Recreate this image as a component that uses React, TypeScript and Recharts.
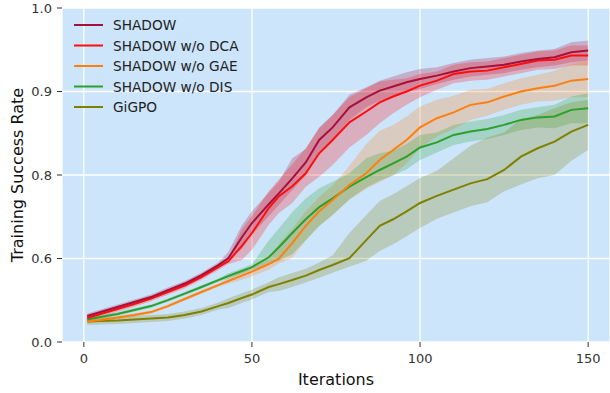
import { Area, CartesianGrid, ComposedChart, Line, XAxis, YAxis } from "recharts";

// iterations where the curves were sampled (extra points at the kinks)
const iterations = [
  1, 5, 10, 15, 20, 25, 30, 35, 40, 43, 47, 50, 55, 58, 62, 66, 70, 74, 79, 84,
  88, 92, 96, 100, 105, 110, 115, 120, 125, 130, 135, 140, 145, 150,
];

const shadow = [
  0.187, 0.215, 0.251, 0.287, 0.323, 0.373, 0.42, 0.481, 0.553, 0.601, 0.651,
  0.685, 0.73, 0.756, 0.792, 0.815, 0.842, 0.857, 0.881, 0.893, 0.901, 0.906,
  0.911, 0.915, 0.919, 0.924, 0.928, 0.93, 0.932, 0.936, 0.939, 0.941, 0.947,
  0.949,
];
const shadowStd = [
  0.018, 0.018, 0.018, 0.018, 0.018, 0.018, 0.018, 0.018, 0.018, 0.015, 0.028,
  0.028, 0.028, 0.028, 0.028, 0.016, 0.015, 0.015, 0.015, 0.012, 0.012, 0.012,
  0.012, 0.012, 0.01, 0.01, 0.01, 0.01, 0.01, 0.01, 0.01, 0.01, 0.012, 0.012,
];

const noDca = [
  0.172, 0.201, 0.237, 0.273, 0.312, 0.359, 0.406, 0.467, 0.538, 0.581, 0.63,
  0.661, 0.721, 0.749, 0.773, 0.802, 0.826, 0.842, 0.863, 0.876, 0.887, 0.894,
  0.9, 0.907, 0.913, 0.921, 0.924, 0.925, 0.929, 0.933, 0.937, 0.938, 0.943,
  0.943,
];
const noDcaStd = [
  0.02, 0.02, 0.02, 0.02, 0.02, 0.02, 0.02, 0.02, 0.02, 0.02, 0.04, 0.04, 0.04,
  0.04, 0.04, 0.03, 0.03, 0.03, 0.03, 0.028, 0.025, 0.02, 0.016, 0.014, 0.011,
  0.011, 0.011, 0.011, 0.011, 0.011, 0.011, 0.011, 0.012, 0.012,
];

const noGae = [
  0.147, 0.158, 0.176, 0.194, 0.215, 0.258, 0.309, 0.359, 0.409, 0.438, 0.477,
  0.506, 0.56, 0.599, 0.637, 0.678, 0.713, 0.74, 0.776, 0.802, 0.818, 0.83,
  0.842, 0.857, 0.868, 0.875, 0.884, 0.887, 0.894, 0.9, 0.904, 0.907, 0.913,
  0.915,
];
const noGaeStd = [
  0.012, 0.012, 0.012, 0.012, 0.012, 0.012, 0.012, 0.012, 0.012, 0.02, 0.03,
  0.035, 0.04, 0.035, 0.035, 0.035, 0.035, 0.035, 0.035, 0.035, 0.035, 0.03,
  0.028, 0.025, 0.022, 0.02, 0.018, 0.016, 0.016, 0.016, 0.016, 0.018, 0.02,
  0.022,
];

const noDis = [
  0.161, 0.179, 0.201, 0.23, 0.258, 0.301, 0.348, 0.395, 0.445, 0.474, 0.51,
  0.538, 0.603, 0.627, 0.661, 0.694, 0.723, 0.744, 0.772, 0.795, 0.806, 0.814,
  0.822, 0.833, 0.839, 0.848, 0.852, 0.855, 0.86, 0.866, 0.869, 0.87, 0.878,
  0.88,
];
const noDisStd = [
  0.012, 0.012, 0.012, 0.012, 0.012, 0.012, 0.012, 0.012, 0.012, 0.02, 0.02,
  0.02, 0.04, 0.045, 0.05, 0.05, 0.045, 0.04, 0.03, 0.025, 0.02, 0.015, 0.015,
  0.015, 0.012, 0.012, 0.012, 0.012, 0.012, 0.012, 0.012, 0.014, 0.016, 0.018,
];

const gigpo = [
  0.147, 0.151, 0.154, 0.161, 0.169, 0.176, 0.194, 0.219, 0.258, 0.28, 0.316,
  0.341, 0.395, 0.416, 0.445, 0.477, 0.517, 0.553, 0.601, 0.644, 0.678, 0.694,
  0.713, 0.733, 0.75, 0.765, 0.78, 0.79, 0.806, 0.822, 0.832, 0.84, 0.852,
  0.86,
];
const gigpoStd = [
  0.025, 0.025, 0.025, 0.025, 0.025, 0.025, 0.025, 0.025, 0.025, 0.035, 0.035,
  0.035, 0.035, 0.05, 0.05, 0.05, 0.055, 0.055, 0.06, 0.06, 0.06, 0.06, 0.06,
  0.06, 0.055, 0.055, 0.055, 0.055, 0.045, 0.045, 0.04, 0.04, 0.035, 0.03,
];

// labelled y ticks; the axis spaces them evenly
const yTickValues = [0.0, 0.6, 0.8, 0.9, 1.0];
const yTickLabels = ["0.0", "0.6", "0.8", "0.9", "1.0"];
const xTicks = [0, 50, 100, 150];

const series = [
  { key: "shadow", name: "SHADOW", color: "#a8103c", mean: shadow, std: shadowStd },
  { key: "noDca", name: "SHADOW w/o DCA", color: "#ff0d0d", mean: noDca, std: noDcaStd },
  { key: "noGae", name: "SHADOW w/o GAE", color: "#ff7f0e", mean: noGae, std: noGaeStd },
  { key: "noDis", name: "SHADOW w/o DIS", color: "#2ca02c", mean: noDis, std: noDisStd },
  { key: "gigpo", name: "GiGPO", color: "#808000", mean: gigpo, std: gigpoStd },
];

// piecewise mapping of a success rate onto the evenly spaced tick positions
function toAxis(v: number): number {
  for (let i = 0; i < yTickValues.length - 1; i++) {
    const a = yTickValues[i];
    const b = yTickValues[i + 1];
    if (v <= b || i === yTickValues.length - 2) {
      return i + (Math.max(v, a) - a) / (b - a);
    }
  }
  return 0;
}

const data = iterations.map((it, i) => {
  const row: Record<string, number | number[]> = { it };
  series.forEach((s) => {
    row[s.key] = toAxis(s.mean[i]);
    row[s.key + "Band"] = [toAxis(s.mean[i] - s.std[i]), toAxis(s.mean[i] + s.std[i])];
  });
  return row;
});

const FONT = "DejaVu Sans, sans-serif";

function LegendBox() {
  return (
    <svg
      width={320}
      height={130}
      style={{ position: "absolute", left: 0, top: 0, pointerEvents: "none" }}
    >
      {series.map((s, i) => {
        const y = 25 + i * 20.5;
        return (
          <g key={s.key}>
            <line x1={74} x2={103} y1={y} y2={y} stroke={s.color} strokeWidth={2} />
            <text
              x={113}
              y={y}
              dominantBaseline="central"
              fontSize={13.7}
              fontFamily={FONT}
              fill="#222"
            >
              {s.name}
            </text>
          </g>
        );
      })}
    </svg>
  );
}

export default function App() {
  return (
    <div style={{ position: "fixed", left: 0, top: 0, width: 610, height: 393, background: "#fff" }}>
      <ComposedChart
        width={610}
        height={393}
        data={data}
        margin={{ top: 8, right: 0, bottom: 0, left: 0 }}
        style={{ fontFamily: FONT }}
      >
        <CartesianGrid stroke="#ffffff" strokeWidth={1.3} fill="#cce5fb" fillOpacity={1} />
        <XAxis
          dataKey="it"
          type="number"
          domain={[-6.5, 156.5]}
          ticks={xTicks}
          height={51}
          axisLine={false}
          tickSize={5}
          tickMargin={7}
          tickLine={{ stroke: "#333" }}
          tick={{ fill: "#333", fontSize: 13 }}
          label={{ value: "Iterations", position: "insideBottom", offset: 8, fill: "#111", fontSize: 16 }}
        />
        <YAxis
          type="number"
          domain={[0, 4]}
          ticks={[0, 1, 2, 3, 4]}
          tickFormatter={(v: number) => yTickLabels[v]}
          width={62}
          axisLine={false}
          tickSize={5}
          tickMargin={5}
          tickLine={{ stroke: "#333" }}
          tick={{ fill: "#333", fontSize: 13 }}
          label={{
            value: "Training Success Rate",
            angle: -90,
            position: "insideLeft",
            offset: 17,
            fill: "#111",
            fontSize: 16,
            style: { textAnchor: "middle" },
          }}
        />
        {series.map((s) => (
          <Area
            key={s.key + "Band"}
            type="linear"
            dataKey={s.key + "Band"}
            stroke="none"
            fill={s.color}
            fillOpacity={0.25}
            isAnimationActive={false}
            legendType="none"
          />
        ))}
        {series
          .slice()
          .reverse()
          .map((s) => (
            <Line
              key={s.key}
              type="linear"
              dataKey={s.key}
              name={s.name}
              stroke={s.color}
              strokeWidth={2}
              dot={false}
              isAnimationActive={false}
            />
          ))}
      </ComposedChart>
      <LegendBox />
    </div>
  );
}
